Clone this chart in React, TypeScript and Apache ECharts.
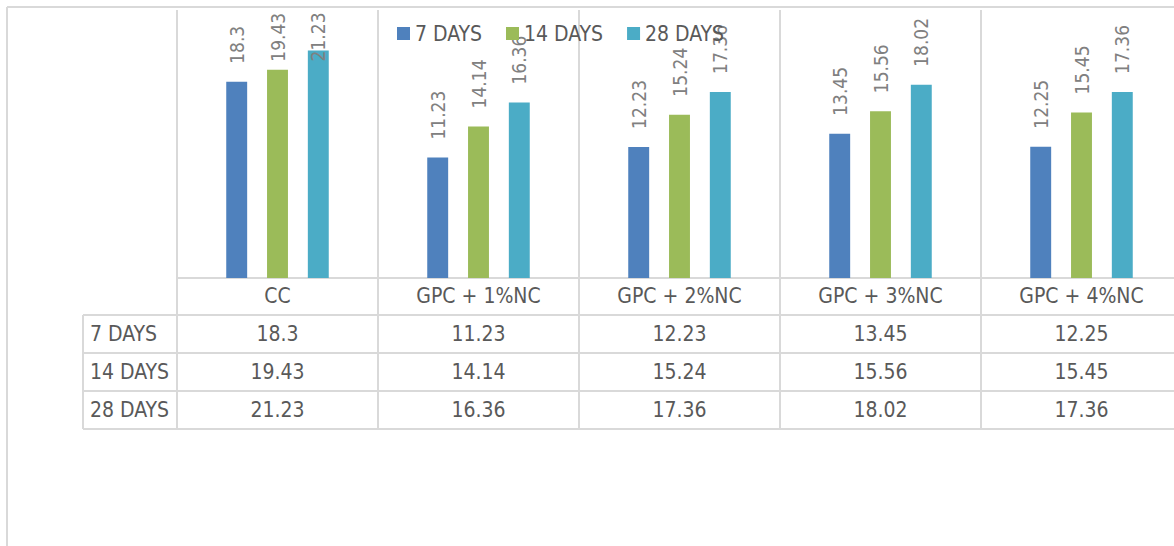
import React, { useEffect, useRef } from "react";
import * as echarts from "echarts";

const categories = ["CC", "GPC + 1%NC", "GPC + 2%NC", "GPC + 3%NC", "GPC + 4%NC"];
const seriesNames = ["7 DAYS", "14 DAYS", "28 DAYS"];
const days7 = [18.3, 11.23, 12.23, 13.45, 12.25];
const days14 = [19.43, 14.14, 15.24, 15.56, 15.45];
const days28 = [21.23, 16.36, 17.36, 18.02, 17.36];
const seriesValues = [days7, days14, days28];
const colors = ["#4f81bd", "#9bbb59", "#4bacc6"];

const FONT = "'DejaVu Sans Condensed', 'Liberation Sans Narrow', sans-serif";
const TEXT = "#595959";
const LABEL = "#808080";
const LINE = "#d9d9d9";

const GRID_LEFT = 177;
const GRID_TOP = 10;
const GRID_W = 1005;
const GRID_H = 268;
const TABLE_LEFT = 83;
const ROWS_Y = [278, 315, 353, 391, 429];
// labels pushed down to stay inside the plot area (series index, category index, distance)
const LABEL_OVERRIDES: [number, number, number][] = [
  [1, 0, 8],
  [2, 0, -11],
];

export default function App() {
  const ref = useRef<HTMLDivElement>(null);
  useEffect(() => {
    if (!ref.current) return;
    const chart = echarts.init(ref.current, null, { renderer: "svg" });
    const series = seriesNames.map((name, si) => ({
      name,
      type: "bar",
      barGap: "95%",
      barCategoryGap: "49%",
      itemStyle: { color: colors[si] },
      label: {
        show: true,
        position: "top",
        rotate: 90,
        align: "left",
        verticalAlign: "middle",
        distance: 18,
        fontSize: 19,
        fontFamily: FONT,
        color: LABEL,
      },
      data: seriesValues[si].map((v, ci) => {
        const o = LABEL_OVERRIDES.find((x) => x[0] === si && x[1] === ci);
        return o ? { value: v, label: { distance: o[2] } } : v;
      }),
    }));
    chart.setOption({
      animation: false,
      backgroundColor: "#ffffff",
      textStyle: { fontFamily: FONT },
      grid: { left: GRID_LEFT, top: GRID_TOP, width: GRID_W, height: GRID_H, containLabel: false },
      legend: {
        data: seriesNames.map((n) => ({ name: n, icon: "rect" })),
        left: 397,
        top: 23,
        padding: 0,
        itemGap: 24,
        itemWidth: 13,
        itemHeight: 13,
        icon: "rect",
        textStyle: { fontSize: 21, color: TEXT, fontFamily: FONT },
      },
      xAxis: {
        type: "category",
        data: categories,
        boundaryGap: true,
        axisLine: { show: true, lineStyle: { color: LINE, width: 2 } },
        axisTick: { show: false },
        splitLine: { show: true, interval: 0, lineStyle: { color: LINE, width: 2 } },
        axisLabel: { interval: 0, fontSize: 21, color: TEXT, fontFamily: FONT, margin: 18, verticalAlign: "middle" },
      },
      yAxis: { type: "value", min: 0, max: 25, show: false, splitLine: { show: false } },
      series,
    });

    const centers = categories.map((c) => chart.convertToPixel({ xAxisIndex: 0 }, c) as number);
    const halfW = GRID_W / categories.length / 2;
    const bounds = [centers[0] - halfW, ...centers.map((c) => c + halfW)];
    const rightEdge = 1400;
    const graphic: any[] = [];
    graphic.push({ type: "line", shape: { x1: 7, y1: 7, x2: rightEdge, y2: 7 }, style: { stroke: LINE, lineWidth: 2 }, silent: true });
    graphic.push({ type: "line", shape: { x1: 7, y1: 7, x2: 7, y2: 800 }, style: { stroke: LINE, lineWidth: 2 }, silent: true });
    ROWS_Y.forEach((y, i) => {
      if (i === 0) return;
      graphic.push({ type: "line", shape: { x1: TABLE_LEFT, y1: y, x2: rightEdge, y2: y }, style: { stroke: LINE, lineWidth: 2 }, silent: true });
    });
    graphic.push({ type: "line", shape: { x1: TABLE_LEFT, y1: ROWS_Y[1], x2: TABLE_LEFT, y2: ROWS_Y[4] }, style: { stroke: LINE, lineWidth: 2 }, silent: true });
    bounds.forEach((x) => {
      graphic.push({ type: "line", shape: { x1: x, y1: ROWS_Y[0], x2: x, y2: ROWS_Y[4] }, style: { stroke: LINE, lineWidth: 2 }, silent: true });
    });
    seriesNames.forEach((name, si) => {
      const cy = (ROWS_Y[si + 1] + ROWS_Y[si + 2]) / 2;
      graphic.push({
        type: "text",
        style: { text: name, x: TABLE_LEFT + 7, y: cy, fill: TEXT, fontSize: 21, fontFamily: FONT, align: "left", verticalAlign: "middle" },
        silent: true,
      });
      seriesValues[si].forEach((v, ci) => {
        graphic.push({
          type: "text",
          style: { text: String(v), x: centers[ci], y: cy, fill: TEXT, fontSize: 21, fontFamily: FONT, align: "center", verticalAlign: "middle" },
          silent: true,
        });
      });
    });
    chart.setOption({ graphic });

    return () => chart.dispose();
  }, []);
  return (
    <div
      ref={ref}
      style={{ position: "fixed", left: 0, top: 0, width: 1200, height: 560, background: "#fff" }}
    />
  );
}
